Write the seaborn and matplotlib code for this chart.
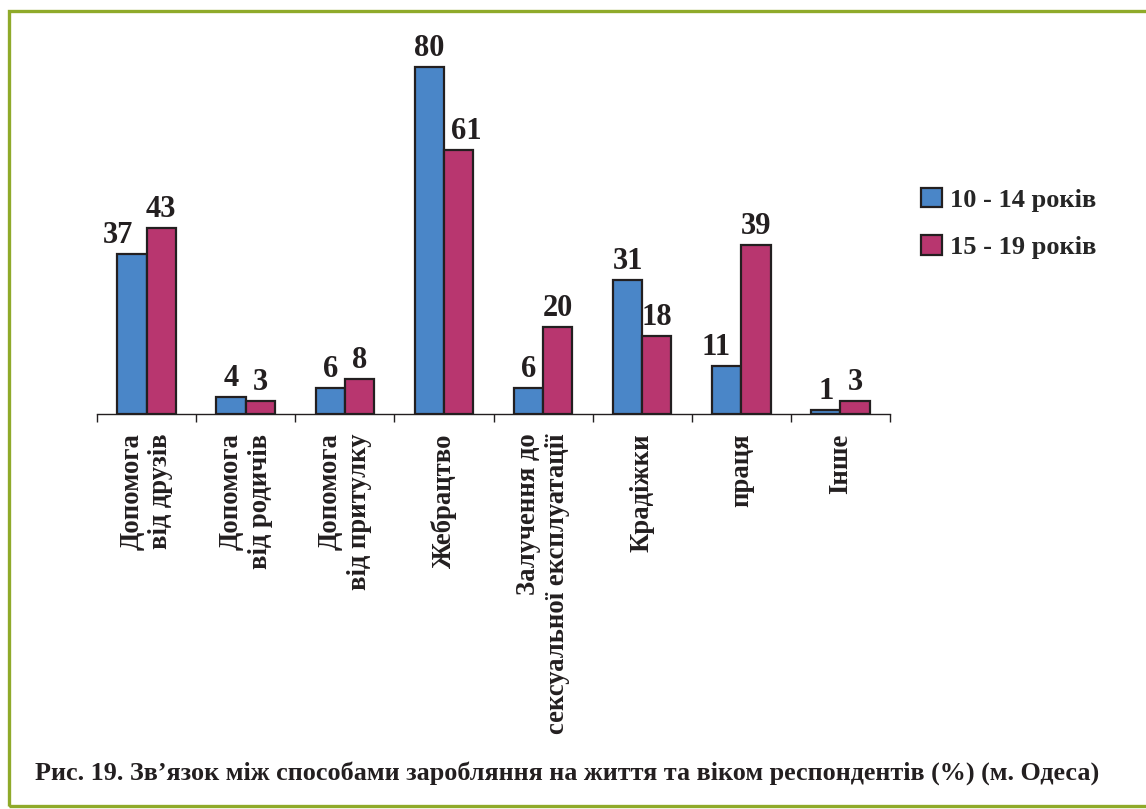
import matplotlib
matplotlib.use("Agg")
import matplotlib.pyplot as plt
from matplotlib.patches import Patch, Rectangle
import seaborn as sns
import pandas as pd

# Survey data: ways of earning a living by respondent age group (%)
categories = [
    "Допомога\nвід друзів",
    "Допомога\nвід родичів",
    "Допомога\nвід притулку",
    "Жебрацтво",
    "Залучення до\nсексуальної експлуатації",
    "Крадіжки",
    "праця",
    "Інше",
]
age_groups = ["10 - 14 років", "15 - 19 років"]
values_10_14 = [37, 4, 6, 80, 6, 31, 11, 1]
values_15_19 = [43, 3, 8, 61, 20, 18, 39, 3]
caption = ("Рис. 19. Зв’язок між способами заробляння на життя та віком "
           "респондентів (%) (м. Одеса)")

colors = ["#4A86C8", "#B8366F"]
frame_color = "#8FAA2A"
serif = ["Liberation Serif", "DejaVu Serif"]

df = pd.DataFrame({
    "category": categories * 2,
    "value": values_10_14 + values_15_19,
    "age": [age_groups[0]] * len(categories) + [age_groups[1]] * len(categories),
})

sns.set_theme(style="white")
plt.rcParams["font.family"] = serif
plt.rcParams["font.weight"] = "bold"

W, H, DPI = 1146, 809, 100
fig = plt.figure(figsize=(W / DPI, H / DPI), dpi=DPI)
fig.patch.set_facecolor("white")

left, right = 97 / W, 890 / W
bottom, top = 1 - 414 / H, 1 - 50 / H
ax = fig.add_axes([left, bottom, right - left, top - bottom])

sns.barplot(data=df, x="category", y="value", hue="age", order=categories,
            hue_order=age_groups, palette=colors, width=0.59,
            edgecolor="#231F20", linewidth=1.6, saturation=1,
            legend=False, ax=ax)

ax.set_xlim(-0.5, len(categories) - 0.5)
ax.set_ylim(0, 84)
ax.set_xlabel("")
ax.set_ylabel("")
ax.set_yticks([])
for side in ["left", "right", "top"]:
    ax.spines[side].set_visible(False)
ax.spines["bottom"].set_color("#231F20")
ax.spines["bottom"].set_linewidth(1.0)

# category boundaries get the tick marks, labels sit at category centres
ax.set_xticks([i - 0.5 for i in range(len(categories) + 1)], minor=True)
ax.tick_params(axis="x", which="minor", direction="out", length=6,
               width=1.0, color="#231F20", bottom=True)
ax.tick_params(axis="x", which="major", length=0, pad=14)
ax.set_xticks(range(len(categories)))
ax.set_xticklabels(categories, rotation=90, fontsize=19.2, fontweight="bold",
                   color="#231F20", fontfamily=serif)
for lbl in ax.get_xticklabels():
    lbl.set_multialignment("right")

# value labels above each bar; a few are nudged sideways to avoid crowding
nudges = {(0, 0): -14, (3, 1): 8, (6, 0): -11}
series = [values_10_14, values_15_19]
for s, container in enumerate(ax.containers):
    for i, bar in enumerate(container):
        xc = bar.get_x() + bar.get_width() / 2
        ax.annotate(str(series[s][i]), (xc, bar.get_height()),
                    xytext=(nudges.get((i, s), 0), 11),
                    textcoords="offset pixels", ha="center", va="baseline",
                    fontsize=22, fontweight="bold", color="#231F20",
                    fontfamily=serif, annotation_clip=False)

handles = [Patch(facecolor=c, edgecolor="#231F20", linewidth=1.6) for c in colors]
fig.legend(handles, age_groups, loc="center left",
           bbox_to_anchor=(921 / W, 1 - 223.5 / H), frameon=False,
           prop={"family": serif, "weight": "bold", "size": 19},
           handlelength=0.8, handleheight=0.75, handletextpad=0.3,
           labelspacing=0.9, borderpad=0, borderaxespad=0)

fig.text(35 / W, 1 - 773 / H, caption, ha="left", va="center",
         fontsize=18.8, fontweight="bold", color="#231F20", fontfamily=serif)

# green frame around the figure
fig.patches.append(Rectangle((8.5 / W, 3 / H), 1.2, (806 - 11) / H,
                             transform=fig.transFigure, fill=False,
                             edgecolor=frame_color, linewidth=2.4,
                             clip_on=False))

fig.savefig("out.png", dpi=DPI)
